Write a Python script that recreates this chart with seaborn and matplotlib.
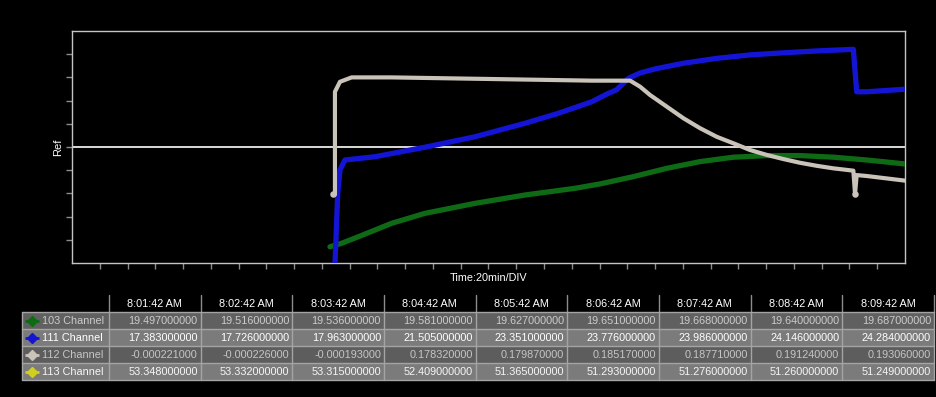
import numpy as np
import pandas as pd
import matplotlib
matplotlib.use("Agg")
import matplotlib.pyplot as plt
import seaborn as sns
from matplotlib.patches import Rectangle

sns.set_theme(style="dark")
plt.rcParams['font.family'] = ['Liberation Sans', 'DejaVu Sans']

# ---- chart series (x in time divisions, y in vertical divisions) ----
x103 = [9.29, 9.71, 10.31, 11.51, 12.71, 14.51, 16.31, 18.12, 19.02, 20.21, 21.42,
        22.62, 23.82, 25.02, 26.22, 27.42, 28.62, 30.0]
y103 = [0.70, 0.85, 1.13, 1.71, 2.14, 2.57, 2.93, 3.22, 3.41, 3.72, 4.08,
        4.37, 4.56, 4.63, 4.63, 4.56, 4.44, 4.27]

x111 = [9.47, 9.57, 9.65, 9.83, 10.91, 12.71, 14.51, 16.31, 17.51, 18.72, 19.31,
        19.61, 20.04, 20.46, 21.02, 22.02, 23.22, 24.42, 25.62, 26.82, 28.14,
        28.26, 28.62, 30.0]
y111 = [-0.09, 3.00, 4.01, 4.44, 4.58, 4.99, 5.44, 6.02, 6.45, 6.95, 7.31,
        7.46, 7.96, 8.19, 8.37, 8.61, 8.82, 8.97, 9.06, 9.14, 9.21,
        7.38, 7.38, 7.49]

x112 = [9.41, 9.47, 9.47, 9.65, 10.07, 11.51, 15.12, 18.72, 20.10, 20.46, 20.82,
        21.42, 22.02, 22.62, 23.22, 23.82, 24.42, 25.02, 25.62, 26.22, 26.82,
        27.42, 28.14, 28.20, 28.26, 28.62, 30.0]
y112 = [2.96, 2.96, 7.38, 7.81, 8.00, 8.00, 7.93, 7.86, 7.86, 7.60, 7.24,
        6.74, 6.24, 5.81, 5.44, 5.16, 4.87, 4.66, 4.48, 4.32, 4.19,
        4.08, 3.98, 2.97, 3.79, 3.75, 3.55]
x112_pts = [9.41, 28.20]
y112_pts = [2.96, 2.97]

ref_level = 5

# ---- table data ----
times = ["8:01:42 AM", "8:02:42 AM", "8:03:42 AM", "8:04:42 AM", "8:05:42 AM",
         "8:06:42 AM", "8:07:42 AM", "8:08:42 AM", "8:09:42 AM"]
channels = ["103 Channel", "111 Channel", "112 Channel", "113 Channel"]
vals103 = [19.497, 19.516, 19.536, 19.581, 19.627, 19.651, 19.668, 19.640, 19.687]
vals111 = [17.383, 17.726, 17.963, 21.505, 23.351, 23.776, 23.986, 24.146, 24.284]
vals112 = [-0.000221, -0.000226, -0.000193, 0.178320, 0.179870, 0.185170, 0.187710, 0.191240, 0.193060]
vals113 = [53.348, 53.332, 53.315, 52.409, 51.365, 51.293, 51.276, 51.260, 51.249]

# ---- styling ----
C_GREEN = "#0e6a14"
C_BLUE = "#1414d4"
C_GRAY = "#c9c3b9"
C_YELLOW = "#cfcf1c"
ch_colors = [C_GREEN, C_BLUE, C_GRAY, C_YELLOW]

W, H = 937, 397
fig = plt.figure(figsize=(W / 100, H / 100), dpi=100, facecolor="black")

ax = fig.add_axes([72 / W, (H - 263) / H, 833 / W, 232 / H])
ax.set_facecolor("black")

ax.axhline(ref_level, color="white", lw=1.2, zorder=2)

df103 = pd.DataFrame({"x": x103, "y": y103})
df111 = pd.DataFrame({"x": x111, "y": y111})
df112 = pd.DataFrame({"x": x112, "y": y112})

sns.lineplot(data=df103, x="x", y="y", ax=ax, color=C_GREEN, lw=3.8,
             sort=False, estimator=None, zorder=3)
sns.lineplot(data=df111, x="x", y="y", ax=ax, color=C_BLUE, lw=3.8,
             sort=False, estimator=None, zorder=4)
sns.lineplot(data=df112, x="x", y="y", ax=ax, color=C_GRAY, lw=3.0,
             sort=False, estimator=None, zorder=5)
ax.scatter(x112_pts, y112_pts, s=22, color=C_GRAY, zorder=6, linewidths=0)

ax.set_xlim(0, 30)
ax.set_ylim(0, 10)
ax.set_xticks(range(1, 30))
ax.set_yticks(range(1, 10))
ax.set_xticklabels([])
ax.set_yticklabels([])
ax.tick_params(axis="both", length=4, width=1, color="#8c8c8c", direction="out",
               bottom=True, left=True, pad=0)
ax.grid(False)
for s in ax.spines.values():
    s.set_visible(True)
    s.set_color("#c4c4c4")
    s.set_linewidth(1.0)
ax.set_xlabel("Time:20min/DIV", color="white", fontsize=7.8)
ax.set_ylabel("Ref", color="white", fontsize=8)
ax.xaxis.set_label_coords(0.5, -0.063)
ax.yaxis.set_label_coords(-0.017, 0.5)
ax.xaxis.label.set_va("center")
ax.yaxis.label.set_va("center")

# ---- data table beneath ----
tab = fig.add_axes([0, 0, 1, 1], zorder=10)
tab.set_xlim(0, W)
tab.set_ylim(H, 0)
tab.axis("off")
tab.patch.set_alpha(0)

label_left, label_right = 22, 109
col_w = (934 - 109) / len(times)
col_edges = [label_right + i * col_w for i in range(len(times) + 1)]
head_top, row_top0, row_h = 295, 312.3, 17.0
row_fill = ["#606060", "#7b7b7b", "#5d5d5d", "#7b7b7b"]
row_text = ["#cbcbcb", "#ffffff", "#c6c6c6", "#f6f6f6"]
grid_c = "#a4a4a4"
all_vals = [vals103, vals111, vals112, vals113]

# header
for i, t in enumerate(times):
    cx = (col_edges[i] + col_edges[i + 1]) / 2
    tab.text(cx, (head_top + row_top0) / 2 + 0.5, t, color="white", fontsize=7.8,
             ha="center", va="center")
for e in col_edges:
    tab.plot([e, e], [head_top, row_top0], color="#8c8c8c", lw=1)

# rows
for r, (name, vals) in enumerate(zip(channels, all_vals)):
    y0 = row_top0 + r * row_h
    cy = y0 + row_h / 2
    tab.add_patch(Rectangle((label_left, y0), col_edges[-1] - label_left, row_h,
                            facecolor=row_fill[r], edgecolor="none"))
    tab.plot([25, 39], [cy, cy], color=ch_colors[r], lw=2, solid_capstyle="butt")
    tab.plot([32], [cy], marker="D", ms=5, color=ch_colors[r], mec=ch_colors[r])
    tab.text(42, cy + 0.5, name, color=row_text[r], fontsize=7.8, ha="left", va="center")
    for i, v in enumerate(vals):
        tab.text(col_edges[i + 1] - 3, cy + 0.5, f"{v:.9f}", color=row_text[r],
                 fontsize=7.8, ha="right", va="center")

# grid lines
n_rows = len(channels)
for r in range(n_rows + 1):
    y = row_top0 + r * row_h
    tab.plot([label_left, col_edges[-1]], [y, y], color=grid_c, lw=1)
for e in [label_left] + col_edges:
    tab.plot([e, e], [row_top0, row_top0 + n_rows * row_h], color=grid_c, lw=1)

fig.savefig("out.png", dpi=100, facecolor="black")
